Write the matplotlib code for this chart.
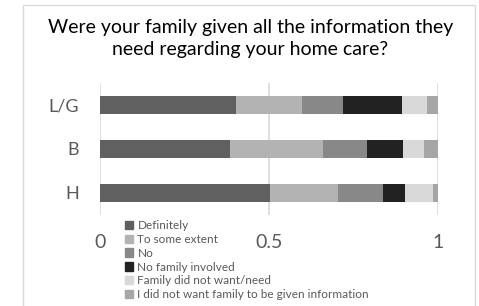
import matplotlib.pyplot as plt
import matplotlib.patches as mpatches
import numpy as np

plt.rcParams['font.family'] = ['Lato', 'DejaVu Sans']

groups = ['L/G', 'B', 'H']
labels = ['Definitely', 'To some extent', 'No', 'No family involved',
          'Family did not want/need', 'I did not want family to be given information']
colors = ['#606060', '#b3b3b3', '#888888', '#222222', '#d9d9d9', '#a6a6a6']

definitely = [0.402, 0.384, 0.503]
some_extent = [0.194, 0.274, 0.200]
no = [0.122, 0.132, 0.134]
no_family = [0.175, 0.105, 0.065]
not_want = [0.074, 0.061, 0.083]
i_not_want = [0.033, 0.044, 0.015]
series = [definitely, some_extent, no, no_family, not_want, i_not_want]

fig = plt.figure(figsize=(4.79, 3.06), dpi=100)
ax = fig.add_axes([0.2088, 0.2974, 0.7066, 0.4314])

y = np.arange(len(groups))
left = np.zeros(len(groups))
handles = []
for vals, c, lab in zip(series, colors, labels):
    ax.barh(y, vals, left=left, height=0.39, color=c, zorder=3)
    left += np.array(vals)
    handles.append(mpatches.Patch(color=c, label=lab))

ax.set_ylim(2.5, -0.5)
ax.set_xlim(0, 1)
ax.set_xticks([0, 0.5, 1])
ax.set_xticklabels(['0', '0.5', '1'])
ax.set_yticks(y)
ax.set_yticklabels(groups)
ax.tick_params(axis='x', length=0, pad=14, labelsize=14, labelcolor='#595959')
ax.tick_params(axis='y', length=0, pad=15, labelsize=13, labelcolor='#595959')
ax.grid(axis='x', color='#d9d9d9', linewidth=1.2, zorder=0)
for s in ax.spines.values():
    s.set_visible(False)

fig.text(0.523, 0.874, 'Were your family given all the information they\nneed regarding your home care?',
         ha='center', va='center', fontsize=14, linespacing=1.3, color='#000000')

fig.legend(handles=handles, loc='upper left', bbox_to_anchor=(0.261, 0.281),
           frameon=False, fontsize=8.5, handlelength=0.7, handleheight=0.7,
           handletextpad=0.35, labelspacing=0.24, borderpad=0, borderaxespad=0,
           labelcolor='#595959')

fig.patches.append(mpatches.Rectangle((23 / 479, -0.1), 452 / 479, 1.1 - 5 / 306,
                                      transform=fig.transFigure, fill=False,
                                      edgecolor='#d9d9d9', linewidth=1))

fig.savefig('out.png', dpi=100)
